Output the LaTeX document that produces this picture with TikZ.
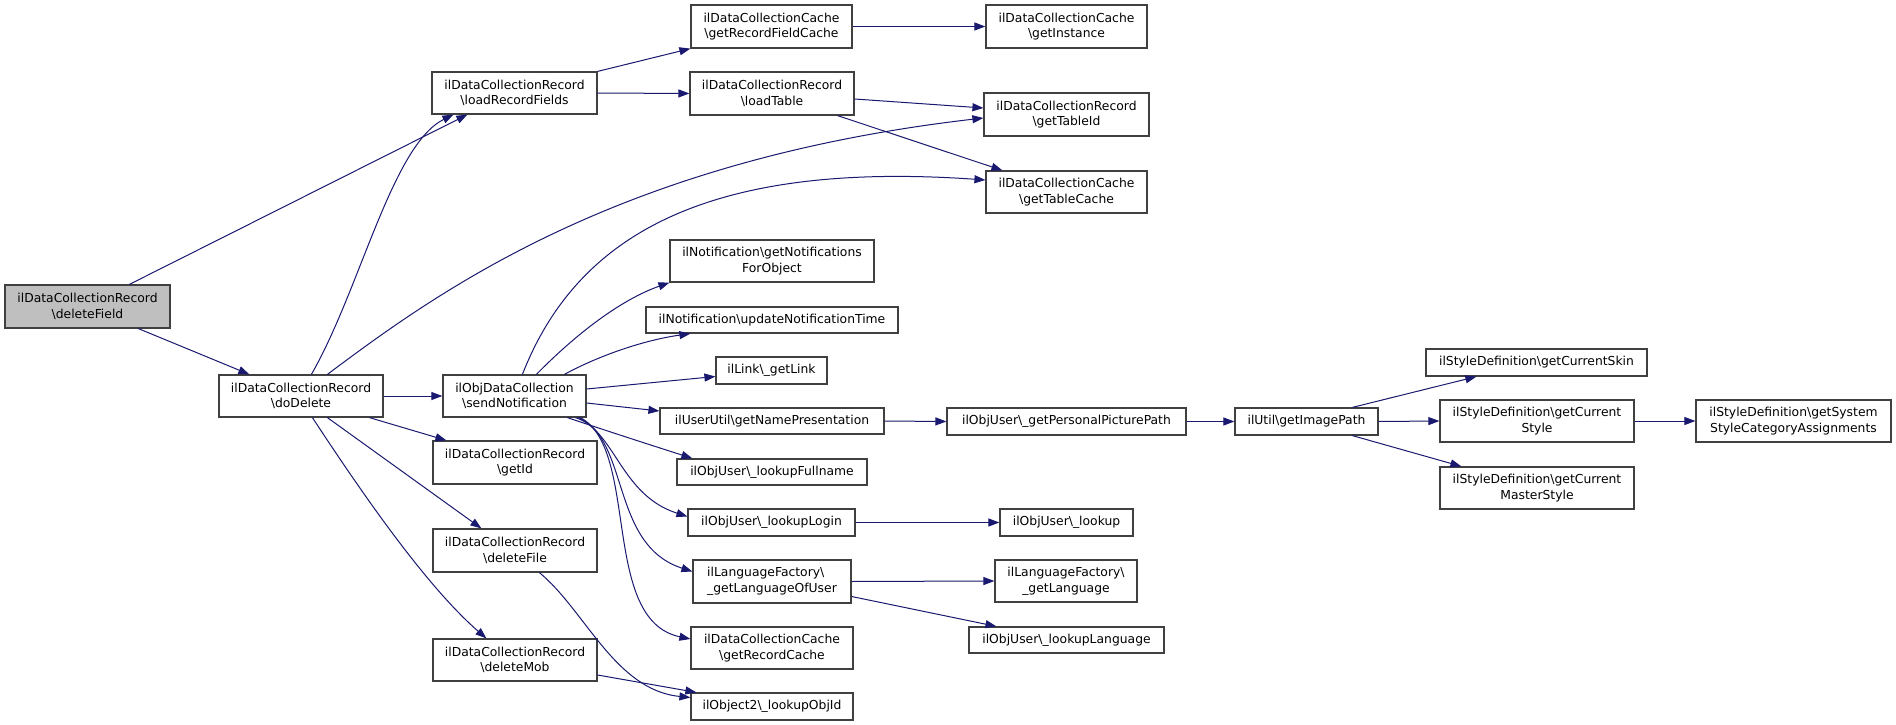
\documentclass[tikz,border=0pt]{standalone}
\usepackage{fontspec}
\setmainfont{DejaVu Sans}
\usetikzlibrary{arrows.meta,calc}
\definecolor{edgeblue}{HTML}{191970}
\definecolor{boxline}{HTML}{404040}
\definecolor{rootfill}{HTML}{BFBFBF}
\newcommand{\bs}{\textbackslash}
\tikzset{
  fn/.style={draw=boxline, line width=1.2bp, inner sep=0pt, align=center, fill=white,
    font=\fontsize{12.4}{15.6}\selectfont},
  rootfn/.style={fn, fill=rootfill},
  call/.style={draw=edgeblue, line width=1bp, -{Triangle[length=11bp,width=8bp]}, shorten >=0pt},
}
\begin{document}
\begin{tikzpicture}[x=1bp,y=-1bp]
\useasboundingbox (0,0) rectangle (1896,725);
\fill[white] (0,0) rectangle (1896,725);

% nodes
\node[rootfn, minimum width=165bp, minimum height=43bp] (delField) at (87.5,306.5) {ilDataCollectionRecord\\\bs deleteField};
\node[fn, minimum width=165bp, minimum height=42bp] (loadRF) at (514.5,93) {ilDataCollectionRecord\\\bs loadRecordFields};
\node[fn, minimum width=164bp, minimum height=42bp] (doDelete) at (301,396) {ilDataCollectionRecord\\\bs doDelete};
\node[fn, minimum width=161bp, minimum height=43bp] (getRFC) at (771.5,26.5) {ilDataCollectionCache\\\bs getRecordFieldCache};
\node[fn, minimum width=164bp, minimum height=43bp] (loadTable) at (772,93.5) {ilDataCollectionRecord\\\bs loadTable};
\node[fn, minimum width=161bp, minimum height=43bp] (getInstance) at (1066.5,26.5) {ilDataCollectionCache\\\bs getInstance};
\node[fn, minimum width=165bp, minimum height=43bp] (getTableId) at (1066.5,114.5) {ilDataCollectionRecord\\\bs getTableId};
\node[fn, minimum width=161bp, minimum height=42bp] (getTableCache) at (1066.5,192) {ilDataCollectionCache\\\bs getTableCache};
\node[fn, minimum width=143bp, minimum height=42bp] (sendNotif) at (514.5,396) {ilObjDataCollection\\\bs sendNotification};
\node[fn, minimum width=164bp, minimum height=43bp] (getId) at (515,462.5) {ilDataCollectionRecord\\\bs getId};
\node[fn, minimum width=164bp, minimum height=43bp] (deleteFile) at (515,550.5) {ilDataCollectionRecord\\\bs deleteFile};
\node[fn, minimum width=164bp, minimum height=42bp] (deleteMob) at (515,660) {ilDataCollectionRecord\\\bs deleteMob};
\node[fn, minimum width=204bp, minimum height=42bp] (getNotif) at (772,261) {ilNotification\bs getNotifications\\ForObject};
\node[fn, minimum width=252bp, minimum height=26bp] (updNotif) at (772,320) {ilNotification\bs updateNotificationTime};
\node[fn, minimum width=111bp, minimum height=27bp] (getLink) at (771.5,370.5) {ilLink\bs\_getLink};
\node[fn, minimum width=224bp, minimum height=26bp] (getNamePres) at (772,421) {ilUserUtil\bs getNamePresentation};
\node[fn, minimum width=190bp, minimum height=26bp] (lookupFullname) at (772,472) {ilObjUser\bs\_lookupFullname};
\node[fn, minimum width=167bp, minimum height=27bp] (lookupLogin) at (771.5,522.5) {ilObjUser\bs\_lookupLogin};
\node[fn, align=left, minimum width=158bp, minimum height=43bp] (getLangOfUser) at (772,581.5) {ilLanguageFactory\bs\\\_getLanguageOfUser};
\node[fn, minimum width=162bp, minimum height=42bp] (getRecordCache) at (772,648) {ilDataCollectionCache\\\bs getRecordCache};
\node[fn, minimum width=162bp, minimum height=27bp] (lookupObjId) at (772,706.5) {ilObject2\bs\_lookupObjId};
\node[fn, minimum width=239bp, minimum height=27bp] (getPPP) at (1066.5,421.5) {ilObjUser\bs\_getPersonalPicturePath};
\node[fn, minimum width=133bp, minimum height=27bp] (lookup) at (1066.5,522.5) {ilObjUser\bs\_lookup};
\node[fn, minimum width=142bp, minimum height=42bp] (getLanguage) at (1066,581) {ilLanguageFactory\bs\\\_getLanguage};
\node[fn, minimum width=195bp, minimum height=26bp] (lookupLanguage) at (1066.5,640) {ilObjUser\bs\_lookupLanguage};
\node[fn, minimum width=143bp, minimum height=27bp] (getImagePath) at (1306.5,421.5) {ilUtil\bs getImagePath};
\node[fn, minimum width=221bp, minimum height=27bp] (getCurrentSkin) at (1536.5,362.5) {ilStyleDefinition\bs getCurrentSkin};
\node[fn, minimum width=194bp, minimum height=42bp] (getCurrentStyle) at (1537,421) {ilStyleDefinition\bs getCurrent\\Style};
\node[fn, minimum width=194bp, minimum height=42bp] (getMasterStyle) at (1537,488) {ilStyleDefinition\bs getCurrent\\MasterStyle};
\node[fn, minimum width=195bp, minimum height=42bp] (getSysStyle) at (1793.5,421) {ilStyleDefinition\bs getSystem\\StyleCategoryAssignments};

% edges from deleteField
\draw[call] ($(delField.north west)+(125,0)$) -- ($(loadRF.south west)+(36,0)$);
\draw[call] ($(delField.south west)+(134,0)$) -- ($(doDelete.north west)+(31,0)$);

% edges from doDelete
\draw[call] ($(doDelete.north west)+(93,0)$) .. controls (360,290) and (392,145) .. ($(loadRF.south west)+(22,0)$);
\draw[call] ($(doDelete.north west)+(109,0)$) .. controls (440,290) and (620,160) .. ($(getTableId.west)+(0,3.5)$);
\draw[call] (doDelete.east) -- (sendNotif.west);
\draw[call] ($(doDelete.south west)+(151,0)$) -- ($(getId.north west)+(14,0)$);
\draw[call] ($(doDelete.south west)+(109,0)$) -- ($(deleteFile.north west)+(49,0)$);
\draw[call] ($(doDelete.south west)+(94,0)$) .. controls (360,490) and (425,585) .. ($(deleteMob.north west)+(54,0)$);

% edges from loadRecordFields
\draw[call] (loadRF.north east) -- (getRFC.south west);
\draw[call] (loadRF.east) -- (loadTable.west);
\draw[call] (getRFC.east) -- (getInstance.west);

% edges from loadTable
\draw[call] ($(loadTable.east)+(0,5.5)$) -- ($(getTableId.west)+(0,-6.5)$);
\draw[call] ($(loadTable.south east)+(-17,0)$) -- ($(getTableCache.north west)+(17,0)$);

% edges from sendNotification
\draw[call] ($(sendNotif.north west)+(80,0)$) .. controls (575,240) and (700,160) .. ($(getTableCache.west)+(0,-12)$);
\draw[call] ($(sendNotif.north west)+(94,0)$) .. controls (575,335) and (620,300) .. (getNotif.south west);
\draw[call] ($(sendNotif.north west)+(122,0)$) .. controls (600,355) and (645,340) .. ($(updNotif.south west)+(45,0)$);
\draw[call] ($(sendNotif.east)+(0,-7)$) -- ($(getLink.west)+(0,6)$);
\draw[call] ($(sendNotif.east)+(0,7)$) -- ($(getNamePres.west)+(0,-10)$);
\draw[call] ($(sendNotif.south west)+(125,0)$) .. controls (610,432) and (660,448) .. ($(lookupFullname.north west)+(16,0)$);
\draw[call] ($(sendNotif.south west)+(133,0)$) .. controls (615,430) and (620,495) .. ($(lookupLogin.west)+(0,-6)$);
\draw[call] ($(sendNotif.south west)+(136,0)$) .. controls (630,440) and (610,545) .. ($(getLangOfUser.west)+(0,-10)$);
\draw[call] ($(sendNotif.south west)+(138,0)$) .. controls (640,450) and (600,620) .. ($(getRecordCache.west)+(0,-9)$);

% deleteFile / deleteMob
\draw[call] ($(deleteFile.south west)+(107,0)$) .. controls (585,610) and (615,690) .. ($(lookupObjId.west)+(0,-9)$);
\draw[call] ($(deleteMob.east)+(0,15)$) -- ($(lookupObjId.north west)+(6,0)$);

% right side
\draw[call] (getNamePres.east) -- (getPPP.west);
\draw[call] (getPPP.east) -- (getImagePath.west);
\draw[call] ($(getImagePath.north west)+(118,0)$) -- ($(getCurrentSkin.south west)+(51,0)$);
\draw[call] (getImagePath.east) -- (getCurrentStyle.west);
\draw[call] ($(getImagePath.south west)+(118,0)$) -- ($(getMasterStyle.north west)+(22,0)$);
\draw[call] (getCurrentStyle.east) -- (getSysStyle.west);
\draw[call] (lookupLogin.east) -- (lookup.west);
\draw[call] (getLangOfUser.east) -- (getLanguage.west);
\draw[call] ($(getLangOfUser.east)+(0,15)$) -- ($(lookupLanguage.north west)+(28,0)$);
\end{tikzpicture}
\end{document}
